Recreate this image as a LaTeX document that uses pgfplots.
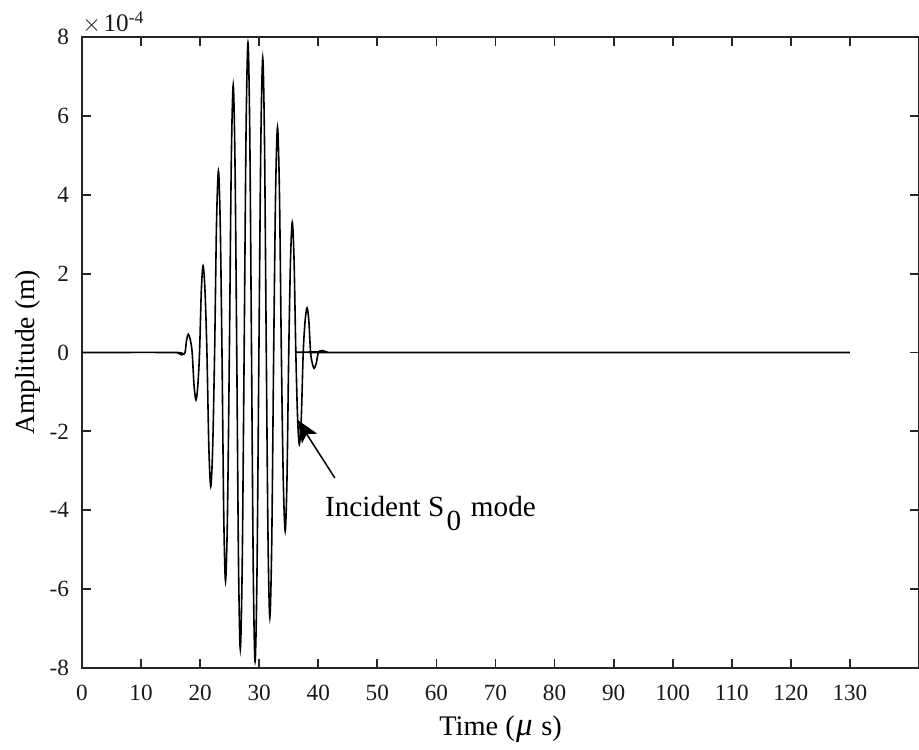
\documentclass[border=0pt]{standalone}
\usepackage{fontspec}
\setmainfont{Liberation Serif}
\usepackage{pgfplots}
\pgfplotsset{compat=1.18}
\usetikzlibrary{arrows.meta}
\definecolor{axcol}{gray}{0.15}

\begin{document}
\begin{tikzpicture}
\begin{axis}[
  scale only axis, width=418.5pt, height=315.5pt,
  xmin=0, xmax=141.7, ymin=-8, ymax=8,
  axis line style={axcol, line width=0.9pt},
  tick style={axcol, line width=0.9pt},
  tick align=inside, major tick length=4.3pt,
  xtick pos=both, ytick pos=both,
  xticklabel pos=lower, yticklabel pos=left,
  xtick={0,10,...,130},
  xticklabels={0,10,20,30,40,50,60,70,80,90,100,110,120,130},
  ytick={-8,-6,...,8},
  yticklabels={-8,-6,-4,-2,0,2,4,6,8},
  tick label style={font=\fontsize{11.6pt}{13pt}\selectfont, text=black!90},
  xticklabel style={inner sep=0pt, anchor=north, yshift=-8.5pt},
  yticklabel style={inner sep=0pt, anchor=east, xshift=-6.3pt},
  clip=false,
]
% amplitude in units of 1e-4 m
\addplot[black, line width=0.8pt, smooth] coordinates {
(0,0) (15.6,0) (16.3,-0.02) (16.9,-0.06) (17.175,-0.04) (17.45,0) (17.725,0.33)
(18.0,0.46) (18.325,0.33) (18.65,0) (18.975,-0.85)
(19.3,-1.20) (19.6,-0.85) (19.9,0) (20.2,1.56)
(20.5,2.20) (20.825,1.56) (21.15,0) (21.475,-2.40)
(21.8,-3.40) (22.125,-2.40) (22.45,0) (22.775,3.28)
(23.1,4.60) (23.4,3.28) (23.7,0) (24.0,-4.14)
(24.3,-5.80) (24.625,-4.14) (24.95,0) (25.275,4.84)
(25.6,6.78) (25.9,4.84) (26.2,0) (26.5,-5.37)
(26.8,-7.52) (27.125,-5.37) (27.45,0) (27.775,5.61)
(28.1,7.86) (28.4,5.61) (28.7,0) (29.0,-5.60)
(29.3,-7.84) (29.625,-5.60) (29.95,0) (30.275,5.32)
(30.6,7.46) (30.9,5.32) (31.2,0) (31.5,-4.79)
(31.8,-6.72) (32.125,-4.79) (32.45,0) (32.775,4.07)
(33.1,5.71) (33.425,4.07) (33.75,0) (34.075,-3.23)
(34.4,-4.53) (34.7,-3.23) (35.0,0) (35.3,2.35)
(35.6,3.30) (35.9,2.35) (36.2,0) (36.5,-1.66)
(36.8,-2.33) (37.125,-1.66) (37.45,0) (37.775,0.81)
(38.1,1.13) (38.4,0.81) (38.7,0) (39.0,-0.28)
(39.3,-0.40) (39.65,-0.28) (40.0,0) (40.35,0.04)
(40.7,0.05) (41.3,0.02) (42.0,0) (130,0)
};
\draw[black, line width=0.75pt, -{Stealth[length=11pt, width=9pt, inset=2.5pt]}]
  (axis cs:42.8,-3.18) -- (axis cs:36.5,-1.71);
\node[anchor=base west, inner sep=0pt, font=\fontsize{14.6pt}{16pt}\selectfont]
  at (axis cs:41.1,-4.16) {Incident S\hspace{0.08em}\raisebox{-7pt}{0}\hspace{0.08em} mode};
\node[anchor=base west, inner sep=0pt, font=\fontsize{12.6pt}{14pt}\selectfont, text=black!90]
  at ([yshift=2.5pt]rel axis cs:0,1) {$\times$\hspace{0.1em}10\textsuperscript{-4}};
\node[anchor=base, inner sep=0pt, font=\fontsize{14.2pt}{16pt}\selectfont]
  at ([yshift=-33.5pt]rel axis cs:0.5,0) {Time (\hspace{0.05em}{\fontsize{16.5pt}{16pt}\selectfont\textit{μ}}\hspace{0.3em}s)};
\node[anchor=north, rotate=90, inner sep=0pt, font=\fontsize{13.8pt}{16pt}\selectfont]
  at ([xshift=-33.5pt]rel axis cs:0,0.5) {Amplitude (m)};
\end{axis}
\pgfresetboundingbox
\path[use as bounding box] ([shift={(-41pt,-40.5pt)}]current axis.south west)
  rectangle ([shift={(0pt,18.5pt)}]current axis.north east);
\end{tikzpicture}
\end{document}
